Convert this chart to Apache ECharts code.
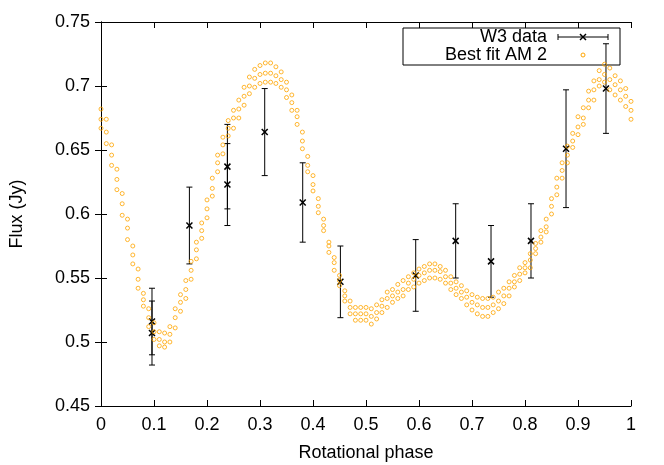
<!DOCTYPE html>
<html>
<head>
<meta charset="utf-8">
<script src="https://cdn.jsdelivr.net/npm/echarts@6/dist/echarts.min.js"></script>
<style>
  html, body { margin: 0; padding: 0; background: #fff; }
  #chart { width: 664px; height: 465px; }
</style>
</head>
<body>
<div id="chart"></div>
<script>
// W3 photometry (phase, flux, error)
const w3Phase = [0.0962, 0.0962, 0.1668, 0.2385, 0.2385, 0.3089, 0.3806, 0.4517, 0.5938, 0.6692, 0.7359, 0.8113, 0.8774, 0.9528];
const w3Flux  = [0.516, 0.507, 0.591, 0.637, 0.623, 0.664, 0.609, 0.547, 0.552, 0.579, 0.563, 0.579, 0.651, 0.698];
const w3Err   = [0.026, 0.025, 0.030, 0.033, 0.032, 0.034, 0.031, 0.028, 0.028, 0.029, 0.028, 0.029, 0.046, 0.035];

// best fit AM 2 model, read as three bands of points
const fitPhase = [0, 0.01, 0.02, 0.03, 0.04, 0.05, 0.06, 0.07, 0.08, 0.09,
  0.1, 0.11, 0.12, 0.13, 0.14, 0.15, 0.16, 0.17, 0.18, 0.19,
  0.2, 0.21, 0.22, 0.23, 0.24, 0.25, 0.26, 0.27, 0.28, 0.29,
  0.3, 0.31, 0.32, 0.33, 0.34, 0.35, 0.36, 0.37, 0.38, 0.39,
  0.4, 0.41, 0.42, 0.43, 0.44, 0.45, 0.46, 0.47, 0.48, 0.49,
  0.5, 0.51, 0.52, 0.53, 0.54, 0.55, 0.56, 0.57, 0.58, 0.59,
  0.6, 0.61, 0.62, 0.63, 0.64, 0.65, 0.66, 0.67, 0.68, 0.69,
  0.7, 0.71, 0.72, 0.73, 0.74, 0.75, 0.76, 0.77, 0.78, 0.79,
  0.8, 0.81, 0.82, 0.83, 0.84, 0.85, 0.86, 0.87, 0.88, 0.89,
  0.9, 0.91, 0.92, 0.93, 0.94, 0.95, 0.96, 0.97, 0.98, 0.99, 1];
const fitTop = [0.682, 0.674, 0.654, 0.635, 0.616, 0.596, 0.575, 0.557, 0.538, 0.526,
  0.515, 0.508, 0.507, 0.512, 0.526, 0.537, 0.548, 0.563, 0.578, 0.593,
  0.611, 0.628, 0.646, 0.660, 0.673, 0.681, 0.689, 0.699, 0.707, 0.713,
  0.716, 0.718, 0.718, 0.715, 0.711, 0.703, 0.693, 0.681, 0.664, 0.645,
  0.630, 0.612, 0.596, 0.578, 0.566, 0.552, 0.540, 0.532, 0.527, 0.527,
  0.527, 0.526, 0.529, 0.533, 0.539, 0.541, 0.545, 0.548, 0.551, 0.554,
  0.557, 0.559, 0.561, 0.561, 0.559, 0.556, 0.551, 0.547, 0.544, 0.540,
  0.537, 0.535, 0.534, 0.534, 0.535, 0.539, 0.542, 0.547, 0.552, 0.558,
  0.562, 0.569, 0.577, 0.587, 0.596, 0.612, 0.628, 0.640, 0.653, 0.663,
  0.676, 0.683, 0.696, 0.704, 0.712, 0.717, 0.714, 0.708, 0.704, 0.698, 0.688];
const fitMid = [0.674, 0.664, 0.646, 0.627, 0.608, 0.589, 0.568, 0.549, 0.533, 0.519,
  0.508, 0.502, 0.500, 0.506, 0.519, 0.531, 0.541, 0.556, 0.572, 0.587,
  0.604, 0.620, 0.640, 0.654, 0.667, 0.675, 0.682, 0.692, 0.700, 0.706,
  0.709, 0.710, 0.710, 0.708, 0.705, 0.697, 0.687, 0.676, 0.657, 0.638,
  0.623, 0.606, 0.591, 0.575, 0.562, 0.548, 0.536, 0.527, 0.522, 0.522,
  0.522, 0.520, 0.523, 0.528, 0.534, 0.536, 0.539, 0.541, 0.546, 0.549,
  0.552, 0.554, 0.556, 0.556, 0.555, 0.551, 0.546, 0.542, 0.539, 0.535,
  0.531, 0.529, 0.527, 0.527, 0.529, 0.532, 0.536, 0.542, 0.547, 0.553,
  0.558, 0.564, 0.573, 0.582, 0.590, 0.606, 0.621, 0.634, 0.646, 0.657,
  0.668, 0.675, 0.689, 0.697, 0.705, 0.709, 0.705, 0.701, 0.697, 0.692, 0.681];
const fitLow = [0.667, 0.655, 0.638, 0.619, 0.599, 0.580, 0.561, 0.542, 0.528, 0.512,
  0.502, 0.497, 0.496, 0.500, 0.511, 0.524, 0.534, 0.549, 0.565, 0.581,
  0.597, 0.614, 0.633, 0.647, 0.661, 0.667, 0.675, 0.685, 0.694, 0.699,
  0.702, 0.703, 0.703, 0.702, 0.699, 0.691, 0.681, 0.670, 0.651, 0.633,
  0.618, 0.601, 0.587, 0.570, 0.556, 0.544, 0.532, 0.522, 0.517, 0.517,
  0.517, 0.514, 0.518, 0.523, 0.527, 0.531, 0.534, 0.536, 0.541, 0.543,
  0.546, 0.548, 0.550, 0.550, 0.549, 0.546, 0.541, 0.537, 0.534, 0.529,
  0.525, 0.522, 0.520, 0.520, 0.523, 0.526, 0.530, 0.536, 0.543, 0.548,
  0.554, 0.558, 0.569, 0.578, 0.586, 0.600, 0.615, 0.628, 0.640, 0.652,
  0.662, 0.670, 0.683, 0.689, 0.700, 0.703, 0.697, 0.693, 0.689, 0.684, 0.674];

const FONT = 'Liberation Sans';
const ORANGE = '#ffa500';

const chart = echarts.init(document.getElementById('chart'));

function pairs(ys) {
  return fitPhase.map((p, i) => [p, ys[i]]);
}

function fitSeries(name, ys) {
  return {
    name: name,
    type: 'scatter',
    data: pairs(ys),
    symbol: 'circle',
    symbolSize: 4,
    itemStyle: { color: 'transparent', borderColor: ORANGE, borderWidth: 1 },
    silent: true,
    z: 3
  };
}

const errData = w3Phase.map((p, i) => [p, w3Flux[i], w3Err[i]]);

const tickStyle = { inside: true, length: 6, lineStyle: { color: '#000', width: 1 } };
const lineStyle = { show: true, lineStyle: { color: '#000', width: 1 } };
const labelStyle = { fontFamily: FONT, fontSize: 18, color: '#000' };

const option = {
  animation: false,
  backgroundColor: '#fff',
  grid: { left: 101, right: 33, top: 22, bottom: 59, outerBoundsMode: 'none', containLabel: false },
  xAxis: [{
    type: 'value', min: 0, max: 1, interval: 0.1,
    axisLine: lineStyle, axisTick: tickStyle, splitLine: { show: false },
    axisLabel: Object.assign({ margin: 10 }, labelStyle),
    name: 'Rotational phase', nameLocation: 'middle', nameGap: 38,
    nameTextStyle: labelStyle
  }, {
    type: 'value', min: 0, max: 1, interval: 0.1, position: 'top',
    axisLine: lineStyle, axisTick: tickStyle, splitLine: { show: false },
    axisLabel: { show: false }
  }],
  yAxis: [{
    type: 'value', min: 0.45, max: 0.75, interval: 0.05,
    axisLine: lineStyle, axisTick: tickStyle, splitLine: { show: false },
    axisLabel: Object.assign({ margin: 11 }, labelStyle),
    name: 'Flux (Jy)', nameLocation: 'middle', nameGap: 75,
    nameTextStyle: labelStyle
  }, {
    type: 'value', min: 0.45, max: 0.75, interval: 0.05, position: 'right',
    axisLine: lineStyle, axisTick: tickStyle, splitLine: { show: false },
    axisLabel: { show: false }
  }],
  series: [{
    name: 'W3 data',
    type: 'custom',
    data: errData,
    z: 2,
    renderItem: function (params, api) {
      const x = api.value(0), y = api.value(1), e = api.value(2);
      const hi = api.coord([x, y + e]);
      const lo = api.coord([x, y - e]);
      const c = api.coord([x, y]);
      const cap = 3, m = 3;
      const st = { stroke: '#000', lineWidth: 1 };
      const sx = { stroke: '#000', lineWidth: 1.5 };
      return {
        type: 'group',
        children: [
          { type: 'line', shape: { x1: hi[0], y1: hi[1], x2: lo[0], y2: lo[1] }, style: st },
          { type: 'line', shape: { x1: hi[0] - cap, y1: hi[1], x2: hi[0] + cap, y2: hi[1] }, style: st },
          { type: 'line', shape: { x1: lo[0] - cap, y1: lo[1], x2: lo[0] + cap, y2: lo[1] }, style: st },
          { type: 'line', shape: { x1: c[0] - m, y1: c[1] - m, x2: c[0] + m, y2: c[1] + m }, style: sx },
          { type: 'line', shape: { x1: c[0] - m, y1: c[1] + m, x2: c[0] + m, y2: c[1] - m }, style: sx }
        ]
      };
    }
  },
    fitSeries('Best fit AM 2', fitTop),
    fitSeries('Best fit AM 2', fitMid),
    fitSeries('Best fit AM 2', fitLow)
  ],
  graphic: [{
    type: 'group', z: 100,
    children: [
      { type: 'rect', shape: { x: 403, y: 28, width: 217, height: 37 },
        style: { fill: '#fff', stroke: '#000', lineWidth: 1 } },
      { type: 'text', x: 547, y: 37,
        style: { text: 'W3 data', font: '18px "Liberation Sans"', fill: '#000', textAlign: 'right', textVerticalAlign: 'middle' } },
      { type: 'text', x: 547, y: 55,
        style: { text: 'Best fit AM 2', font: '18px "Liberation Sans"', fill: '#000', textAlign: 'right', textVerticalAlign: 'middle' } },
      { type: 'line', shape: { x1: 558, y1: 37, x2: 608, y2: 37 }, style: { stroke: '#000', lineWidth: 1 } },
      { type: 'line', shape: { x1: 558, y1: 34, x2: 558, y2: 40 }, style: { stroke: '#000', lineWidth: 1 } },
      { type: 'line', shape: { x1: 608, y1: 34, x2: 608, y2: 40 }, style: { stroke: '#000', lineWidth: 1 } },
      { type: 'line', shape: { x1: 580, y1: 34, x2: 586, y2: 40 }, style: { stroke: '#000', lineWidth: 1.5 } },
      { type: 'line', shape: { x1: 580, y1: 40, x2: 586, y2: 34 }, style: { stroke: '#000', lineWidth: 1.5 } },
      { type: 'circle', shape: { cx: 583, cy: 55, r: 2 }, style: { fill: 'none', stroke: ORANGE, lineWidth: 1 } }
    ]
  }]
};

chart.setOption(option);
</script>
</body>
</html>
